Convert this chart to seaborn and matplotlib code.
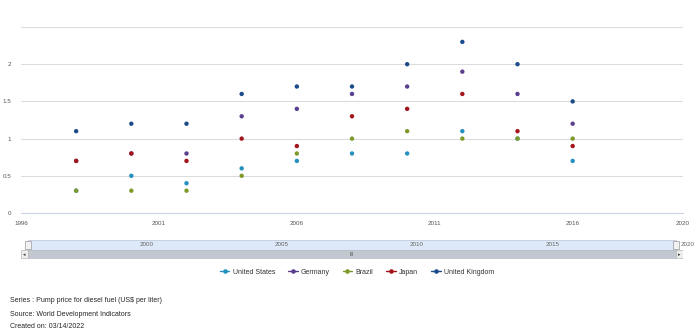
import numpy as np
import pandas as pd
import seaborn as sns
import matplotlib
matplotlib.use("Agg")
import matplotlib.pyplot as plt
from matplotlib.lines import Line2D
from matplotlib.patches import Rectangle

sns.set_style("white")
plt.rcParams['font.family'] = ['Liberation Sans', 'DejaVu Sans']

years = [1998, 2000, 2002, 2004, 2006, 2008, 2010, 2012, 2014, 2016]
countries = ["United States", "Germany", "Brazil", "Japan", "United Kingdom"]
us = [0.3, 0.5, 0.4, 0.6, 0.7, 0.8, 0.8, 1.1, 1.0, 0.7]
germany = [0.7, 0.8, 0.8, 1.3, 1.4, 1.6, 1.7, 1.9, 1.6, 1.2]
brazil = [0.3, 0.3, 0.3, 0.5, 0.8, 1.0, 1.1, 1.0, 1.0, 1.0]
japan = [0.7, 0.8, 0.7, 1.0, 0.9, 1.3, 1.4, 1.6, 1.1, 0.9]
uk = [1.1, 1.2, 1.2, 1.6, 1.7, 1.7, 2.0, 2.3, 2.0, 1.5]
colors = ["#2390bd", "#5b3f8f", "#7d9a2a", "#a3151a", "#1b4b8a"]
xticks = [1996, 2001, 2006, 2011, 2016, 2020]
yticks = [0, 0.5, 1, 1.5, 2]
nav_ticks = [2000, 2005, 2010, 2015, 2020]

series = [us, germany, brazil, japan, uk]
df = pd.DataFrame({
    "year": years * len(countries),
    "value": [v for s in series for v in s],
    "country": [c for c in countries for _ in years],
})

W, H = 700, 336
fig = plt.figure(figsize=(W / 100, H / 100), dpi=100)

def px_axes(x0, y0, x1, y1):
    return fig.add_axes([x0 / W, 1 - y1 / H, (x1 - x0) / W, (y1 - y0) / H])

ax = px_axes(21, 27, 683, 213)
sns.scatterplot(data=df, x="year", y="value", hue="country", hue_order=countries,
                palette=colors, s=10, linewidth=0, legend=False, ax=ax, zorder=3)
ax.set_xlim(1996, 2020)
ax.set_ylim(0, 2.5)
ax.set_xlabel("")
ax.set_ylabel("")
ax.set_yticks(yticks + [2.5])
ax.set_yticklabels(["0", "0.5", "1", "1.5", "2", ""])
ax.set_xticks(xticks)
ax.set_xticklabels([str(t) for t in xticks])
ax.grid(axis="y", color="#dcdcdc", linewidth=0.8)
ax.grid(axis="x", visible=False)
for side in ["top", "right", "left"]:
    ax.spines[side].set_visible(False)
ax.spines["bottom"].set_color("#ccd6eb")
ax.spines["bottom"].set_linewidth(0.8)
ax.tick_params(axis="y", length=0, labelsize=4.5, labelcolor="#555555", pad=7)
ax.tick_params(axis="x", length=4, width=0.6, color="#ccd6eb", labelsize=4.5,
               labelcolor="#555555", pad=2, direction="out")
ax.set_facecolor("none")

# navigator
nav = px_axes(21, 240, 683, 259)
nav.set_xlim(1995.75, 2020.25)
nav.set_ylim(0, 1)
nav.axis("off")
nav.add_patch(Rectangle((1996, 0.47), 24, 0.53, facecolor="#dde9f8", edgecolor="#b8c4d2", linewidth=0.5))
for t in nav_ticks:
    nav.text(t + 0.15, 0.74, str(t), fontsize=4.5, color="#666666", va="center", ha="left")
for hx in [1996, 2020]:
    nav.add_patch(Rectangle((hx - 0.12, 0.55), 0.24, 0.4, facecolor="#f2f2f2", edgecolor="#999999", linewidth=0.5, zorder=4))
nav.add_patch(Rectangle((1996, 0.05), 24, 0.4, facecolor="#c2c8cf", edgecolor="#b0b6bd", linewidth=0.4))
nav.add_patch(Rectangle((1995.75, 0.05), 0.25, 0.4, facecolor="#eeeeee", edgecolor="#aaaaaa", linewidth=0.4))
nav.add_patch(Rectangle((2020.0, 0.05), 0.25, 0.4, facecolor="#eeeeee", edgecolor="#aaaaaa", linewidth=0.4))
nav.text(1995.875, 0.25, "◂", fontsize=3.5, ha="center", va="center", color="#333333")
nav.text(2020.125, 0.25, "▸", fontsize=3.5, ha="center", va="center", color="#333333")
nav.text(2008, 0.25, "III", fontsize=3.5, ha="center", va="center", color="#444444")

# legend
handles = [Line2D([0], [0], color=c, marker="o", markersize=2.3, linewidth=1.0) for c in colors]
fig.legend(handles, countries, loc="center", bbox_to_anchor=(357 / W, 1 - 272 / H),
           ncol=5, frameon=False, fontsize=5, handlelength=1.4, handletextpad=0.5,
           columnspacing=1.8, labelcolor="#333333")

# footer
fig.text(10 / W, 1 - 300 / H, "Series : Pump price for diesel fuel (US$ per liter)", fontsize=5, va="center")
fig.text(10 / W, 1 - 314 / H, "Source: World Development Indicators", fontsize=5, va="center")
fig.text(10 / W, 1 - 327 / H, "Created on: 03/14/2022", fontsize=5, va="center")

fig.savefig("out.png", dpi=100)
